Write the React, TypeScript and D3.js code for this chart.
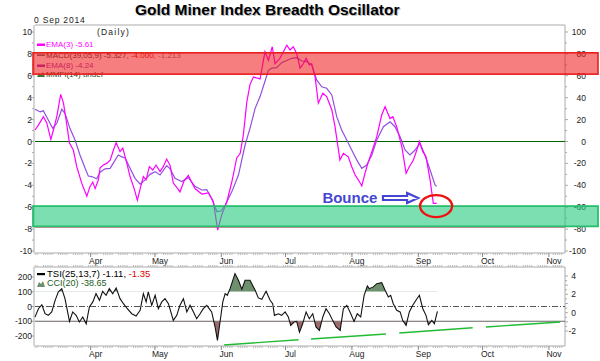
import React from 'react';
import * as d3 from 'd3';

const W = 600;
const H = 361;
const FONT = "'Liberation Sans', Arial, sans-serif";
const BASE = new Date(2014, 3, 1).getTime(); // Apr 1 2014, day 0
const dayToDate = (d: number) => new Date(BASE + d * 86400000);

// x domain (days from Apr 1 2014)
const dayDomain: [number, number] = [-26, 221.5];

// Main panel: EMA(3) (magenta) [day, value]
const emaFast: [number, number][] = [
  [-26, 1.05], [-24.4, 1.5], [-22.1, 2.26], [-20.5, 1.7], [-18.6, 0.2], [-17.4, 1.05], [-15.8, 2.3],
  [-14.0, 4.3], [-12.7, 3.5], [-11.5, 2.0], [-9.9, -0.15], [-8.1, -0.78], [-6.5, -2.3], [-4.2, -3.8],
  [-1.8, -5.0], [-0.3, -4.1], [1.0, -3.7], [2.1, -4.3], [3.6, -3.5], [4.4, -2.4], [5.9, -2.15],
  [7.5, -2.0], [9.1, -1.7], [10.6, -0.8], [11.9, -0.1], [13.7, -0.93], [15.0, -0.6], [16.9, -2.0],
  [18.4, -3.2], [20.3, -4.3], [21.8, -5.35], [23.4, -4.1], [24.6, -3.2], [25.9, -3.5], [27.4, -2.3],
  [29.0, -2.6], [30.5, -2.15], [32.4, -2.75], [33.9, -2.3], [35.5, -1.6], [37.1, -2.2], [38.6, -3.8],
  [41.0, -4.4], [41.7, -4.6], [43.6, -3.6], [45.6, -3.1], [46.9, -3.6], [48.7, -4.3], [51.9, -4.8],
  [55.0, -4.7], [57.3, -5.5], [59.3, -8.1], [61.2, -6.7], [63.6, -5.5], [65.9, -3.7], [68.2, -1.5],
  [69.8, -1.1], [71.3, 0.6], [72.9, 3.6], [74.4, 5.2], [76.0, 5.9], [79.1, 5.7], [81.4, 8.2],
  [83.0, 7.4], [84.8, 8.65], [86.1, 7.1], [88.4, 7.6], [91.6, 8.8], [93.1, 8.36], [94.6, 8.65],
  [96.2, 8.05], [97.8, 6.7], [99.3, 7.1], [100.6, 7.6], [102.1, 7.0], [103.2, 7.1], [104.8, 5.9],
  [106.3, 3.5], [108.4, 4.4], [110.2, 4.1], [112.6, 2.9], [114.1, 1.35], [116.4, -1.7], [118.0, -1.08],
  [120.3, -1.4], [121.9, -2.3], [123.5, -3.06], [125.0, -3.5], [126.6, -4.06], [128.1, -2.9],
  [129.7, -1.84], [131.3, -0.93], [133.6, 0.44], [135.9, 2.42], [137.5, 3.18], [138.5, 2.7],
  [139.8, 2.1], [141.1, 2.27], [142.9, 1.35], [145.3, -0.47], [147.3, -2.9], [148.8, -2.3],
  [150.7, -1.7], [152.3, -0.78], [153.5, 0], [155.1, -0.93], [156.6, -1.4], [158.5, -3.5],
  [160.0, -5.65], [161.6, -5.65],
];

// Main panel: EMA(8) (purple)
const emaSlow: [number, number][] = [
  [-26, 2.94], [-23.6, 2.7], [-22.1, 2.8], [-19.8, 1.96], [-17.7, 1.2], [-15.8, 1.66], [-13.5, 2.94],
  [-12.0, 2.57], [-9.7, 1.2], [-7.3, 0.14], [-5.0, -1.23], [-2.6, -2.45], [-1.1, -3.15], [0.5, -3.2],
  [2.8, -3.4], [4.4, -2.8], [6.7, -2.5], [9.1, -2.45], [11.4, -1.7], [12.9, -1.23], [14.5, -1.4],
  [16.1, -1.5], [18.4, -2.45], [20.7, -3.36], [23.1, -3.9], [25.4, -3.5], [27.7, -3.0], [30.1, -2.75],
  [32.4, -3.06], [35.5, -2.2], [37.1, -2.5], [39.4, -3.36], [42.5, -3.66], [45.6, -3.3], [48.7, -4.1],
  [51.9, -4.43], [54.2, -4.4], [56.5, -5.2], [58.9, -6.4], [60.9, -6.35], [62.8, -5.8], [65.9, -4.6],
  [69.0, -3.06], [72.1, -0.32], [74.4, 1.2], [76.8, 3.03], [79.1, 4.1], [81.4, 5.5], [83.0, 6.5],
  [84.6, 6.7], [86.9, 6.75], [89.2, 7.2], [91.6, 7.4], [93.9, 7.6], [96.2, 7.65], [98.6, 7.35],
  [100.9, 7.3], [103.2, 7.0], [105.6, 5.6], [107.9, 5.0], [110.2, 4.86], [112.6, 4.25], [114.9, 2.27],
  [117.2, 1.05], [119.6, 0.14], [121.9, -0.78], [124.3, -1.7], [126.6, -2.45], [128.9, -2.15],
  [131.3, -1.23], [133.6, 0.14], [136.7, 1.35], [139.8, 1.8], [142.1, 1.35], [144.5, 0.44],
  [146.8, -0.78], [149.1, -1.23], [151.5, -0.78], [153.8, -0.16], [156.1, -1.23], [158.5, -2.6],
  [160.8, -3.97], [161.6, -4.1],
];

// Lower panel: CCI(20) (black, left scale)
const cci: [number, number][] = [
  [-26, -72], [-24.4, -15], [-22.8, 12], [-21.3, -49], [-19.8, -60], [-18.2, -37], [-16.6, 42],
  [-15.1, 99], [-13.5, 121], [-12.0, 53], [-9.9, -101], [-8.4, -37], [-6.8, -60], [-5.3, -105],
  [-3.7, -71], [-2.1, -117], [-0.6, -3], [1.0, 31], [2.5, 87], [4.1, 42], [5.6, 103], [7.2, 76],
  [8.7, 121], [10.3, 87], [11.9, 126], [13.7, 53], [15.3, 19], [17.1, -15], [19.2, -49], [21.2, -65],
  [23.1, -26], [24.6, 87], [25.9, 31], [26.9, 99], [28.5, 8], [30.1, 76], [31.6, -15], [33.2, 31],
  [34.7, 53], [36.3, 19], [38.6, -94], [40.2, -60], [41.7, 8], [43.3, 53], [44.9, -37], [46.4, 8],
  [48.0, -37], [49.5, -83], [51.1, -49], [52.6, -15], [54.2, 8], [56.5, -37], [58.1, -139],
  [59.2, -230], [60.4, -105], [61.7, 31], [62.8, 87], [63.8, 76], [65.1, 121], [67.4, 223],
  [69.0, 178], [70.6, 117], [72.1, 178], [74.4, 178], [76.8, 110], [78.3, 58], [79.9, 49],
  [81.9, 103], [83.8, 42], [85.0, 19], [85.8, -60], [87.6, -49], [89.2, -60], [90.8, -37],
  [92.3, -71], [93.4, -128], [95.0, -105], [96.2, -101], [97.5, -174], [99.0, -117], [100.6, -37],
  [102.1, -83], [103.7, -49], [105.2, -139], [106.8, -162], [108.4, -71], [109.9, -15], [111.5, -49],
  [113.0, -94], [114.6, -139], [116.5, -162], [118.0, -15], [119.6, 8], [121.1, -37], [123.0, -101],
  [124.5, -49], [126.1, -71], [127.7, 76], [129.2, 140], [130.1, 121], [132.0, 133], [133.6, 155],
  [135.9, 162], [137.5, 110], [139.0, 65], [140.1, 76], [141.3, 19], [142.9, -26], [144.5, -37],
  [145.7, -94], [147.3, -128], [148.8, -37], [150.4, 8], [151.9, 42], [153.5, 76], [155.1, -15],
  [156.6, -60], [157.7, -124], [159.3, -94], [160.5, -117], [161.9, -33],
];

// Lower panel: TSI (green, right scale) drawn in segments
const tsiSegments: [number, number][][] = [
  [[62.3, -3.53], [97.1, -2.95]],
  [[102.9, -2.87], [137.9, -2.33]],
  [[144.1, -2.22], [178.4, -1.64]],
  [[184.6, -1.56], [219.2, -1.02]],
];

const mainLeftTicks = [10, 8, 6, 4, 2, 0, -2, -4, -6, -8, -10];
const mainRightTicks = [100, 80, 60, 40, 20, 0, -20, -40, -60, -80, -100];
const lowLeftTicks = [200, 100, 0, -100, -200];
const lowRightTicks = [4, 2, 0, -2];

const redBand: [number, number] = [6.15, 8.1];
const greenBand: [number, number] = [-7.75, -5.9];
const redLineLevel = -7.8;
const cciUpper = 100;
const cciLower = -100;

// annotation anchors (day, value)
const bounceText: [number, number] = [108.2, -5.6];
const bounceArrow: [number, number, number] = [136.5, 152.9, -5.16];
const bounceCircle: [number, number] = [161.3, -5.9];

export default function App() {
  const L = 35, R = 565;
  const x = d3.scaleTime().domain(dayDomain.map(dayToDate)).range([L, R]);
  const xd = (d: number) => x(dayToDate(d));

  const MT = 25, MB = 253;
  const yM = d3.scaleLinear().domain([-10, 10]).range([251, 32]);
  const yMR = d3.scaleLinear().domain([-100, 100]).range([251, 32]);

  const LT = 267, LB = 346;
  const yL = d3.scaleLinear().domain([-200, 200]).range([336, 277]);
  const yLR = d3.scaleLinear().domain([-2, 4]).range([331, 276]);

  const lineM = d3.line<[number, number]>().x(d => xd(d[0])).y(d => yM(d[1]));
  const lineL = d3.line<[number, number]>().x(d => xd(d[0])).y(d => yL(d[1]));
  const lineLR = d3.line<[number, number]>().x(d => xd(d[0])).y(d => yLR(d[1]));
  const areaUp = d3.area<[number, number]>().x(d => xd(d[0])).y0(yL(cciUpper)).y1(d => yL(d[1]));
  const areaDn = d3.area<[number, number]>().x(d => xd(d[0])).y0(yL(cciLower)).y1(d => yL(d[1]));

  const [d0, d1] = x.domain();
  const months = d3.timeMonth.range(d3.timeMonth.ceil(d0), d1);
  const weekdays = d3.timeDay.range(d0, d1).filter(d => d.getDay() % 6 !== 0);
  const fmt = d3.timeFormat('%b');

  const minorMain = d3.range(-10, 11, 1);
  const minorLowR = d3.range(-2, 4.5, 0.5);

  const bx = xd(bounceText[0]);
  const by = yM(bounceText[1]);
  const ax0 = xd(bounceArrow[0]);
  const ax1 = xd(bounceArrow[1]);
  const ay = yM(bounceArrow[2]);
  const arrowPath = `M${ax0},${ay - 2} L${ax1 - 11},${ay - 2} L${ax1 - 11},${ay - 5} L${ax1},${ay} L${ax1 - 11},${ay + 5} L${ax1 - 11},${ay + 2} L${ax0},${ay + 2} Z`;

  const fs = 8.5;

  return (
    <svg width={W} height={H} style={{ position: 'absolute', left: 0, top: 0, display: 'block' }}
      fontFamily={FONT}>
      <defs>
        <clipPath id="clipUp"><rect x={L} y={LT} width={R - L} height={yL(cciUpper) - LT} /></clipPath>
        <clipPath id="clipDn"><rect x={L} y={yL(cciLower)} width={R - L} height={LB - yL(cciLower)} /></clipPath>
      </defs>
      <rect x={0} y={0} width={W} height={H} fill="#fff" />

      {/* title */}
      <text x={136} y={16} fontSize={15.5} fontWeight="bold" fill="#bbb">Gold Miner Index Breadth Oscillator</text>
      <text x={135} y={15} fontSize={15.5} fontWeight="bold" fill="#000">Gold Miner Index Breadth Oscillator</text>
      <text x={34} y={23} fontSize={fs} fill="#222" letterSpacing={0.8}>0 Sep 2014</text>
      <text x={97} y={35} fontSize={fs} fill="#222" letterSpacing={1.2}>(Daily)</text>

      {/* main panel frame */}
      <line x1={L} x2={R} y1={MT} y2={MT} stroke="#aaa" />
      <line x1={L - 1} x2={L - 1} y1={MT} y2={MB} stroke="#aaa" />
      <line x1={R} x2={R} y1={MT} y2={MB} stroke="#aaa" />
      <line x1={L} x2={R} y1={MB} y2={MB} stroke="#aaa" />

      {/* main y ticks */}
      {minorMain.map(v => (
        <g key={'mm' + v}>
          <line x1={L - 1} x2={L - (v % 2 === 0 ? 4 : 3)} y1={yM(v)} y2={yM(v)} stroke="#aaa" />
          <line x1={R} x2={R + (v % 2 === 0 ? 3 : 2)} y1={yM(v)} y2={yM(v)} stroke="#aaa" />
        </g>
      ))}
      {mainLeftTicks.map(v => (
        <text key={'ml' + v} x={32} y={yM(v) + 3} fontSize={fs} textAnchor="end" fill="#222">{v}</text>
      ))}
      {mainRightTicks.map(v => (
        <text key={'mr' + v} x={586} y={yMR(v) + 3} fontSize={fs} textAnchor="end" fill="#222">{v}</text>
      ))}

      {/* level lines */}
      <line x1={L} x2={R} y1={yM(0)} y2={yM(0)} stroke="#006400" strokeWidth={1.2} />
      <line x1={L} x2={R} y1={yM(redLineLevel)} y2={yM(redLineLevel)} stroke="#d0103a" strokeWidth={1.2} />

      {/* legend main */}
      <rect x={37} y={43.5} width={8} height={2.5} fill="#ff00ff" />
      <text x={46} y={47} fontSize={8} fill="#ff00ff">EMA(3) -5.61</text>
      <rect x={37} y={54.5} width={8} height={1.2} fill="#333" />
      <text x={46} y={58} fontSize={8} fill="#333">MACD(39,05,9) -5.327, <tspan fill="#e00000">-4.000,</tspan> <tspan fill="#777">-1.213</tspan></text>
      <rect x={37} y={64.5} width={8} height={2.5} fill="#a030c0" />
      <text x={46} y={68} fontSize={8} fill="#a030c0">EMA(8) -4.24</text>
      <path d="M37,77 L39,73 L41,75 L43,72 L45,77 Z" fill="#3a7a3a" />
      <text x={46} y={77} fontSize={8} fill="#1a4a1a">MMFI(14) undef</text>

      {/* main lines */}
      <path d={lineM(emaSlow) || ''} fill="none" stroke="#9050e0" strokeWidth={1.2} />
      <path d={lineM(emaFast) || ''} fill="none" stroke="#ff00ff" strokeWidth={1.2} />

      {/* bands */}
      <rect x={33} y={yM(redBand[1])} width={598 - 33} height={yM(redBand[0]) - yM(redBand[1])}
        fill="rgb(240,20,20)" fillOpacity={0.55} stroke="rgb(235,30,30)" strokeWidth={1.6} />
      <rect x={33} y={yM(greenBand[1])} width={598 - 33} height={yM(greenBand[0]) - yM(greenBand[1])}
        fill="rgb(30,200,120)" fillOpacity={0.58} stroke="rgb(40,190,110)" strokeWidth={1.8} />

      {/* x ticks under main */}
      {weekdays.map((d, i) => (
        <line key={'wm' + i} x1={x(d)} x2={x(d)} y1={MB} y2={MB + 2} stroke="#bbb" />
      ))}
      {months.map((d, i) => (
        <line key={'tm' + i} x1={x(d)} x2={x(d)} y1={MB} y2={MB + 4} stroke="#888" />
      ))}
      {months.map((d, i) => (
        <text key={'lm' + i} x={x(d) + 5} y={264} fontSize={fs} textAnchor="middle" fill="#222">{fmt(d)}</text>
      ))}

      {/* annotation */}
      <text x={bx} y={by} fontSize={15} fontWeight="bold" fill="#4646d2">Bounce</text>
      <path d={arrowPath} fill="#fff" stroke="#4646d2" strokeWidth={2.2} strokeLinejoin="miter" />
      <ellipse cx={xd(bounceCircle[0])} cy={yM(bounceCircle[1])} rx={16} ry={11} fill="none" stroke="#ee1111" strokeWidth={2.4} />

      {/* lower panel frame */}
      <line x1={L} x2={R} y1={LT} y2={LT} stroke="#aaa" />
      <line x1={L - 1} x2={L - 1} y1={LT} y2={LB} stroke="#aaa" />
      <line x1={R} x2={R} y1={LT} y2={LB} stroke="#aaa" />
      <line x1={L} x2={R} y1={LB} y2={LB} stroke="#aaa" />
      {weekdays.map((d, i) => (
        <line key={'wt' + i} x1={x(d)} x2={x(d)} y1={LT - 2} y2={LT} stroke="#bbb" />
      ))}
      {weekdays.map((d, i) => (
        <line key={'wl' + i} x1={x(d)} x2={x(d)} y1={LB} y2={LB + 2} stroke="#bbb" />
      ))}
      {months.map((d, i) => (
        <line key={'tl' + i} x1={x(d)} x2={x(d)} y1={LB} y2={LB + 4} stroke="#888" />
      ))}
      {months.map((d, i) => (
        <text key={'ll' + i} x={x(d) + 5} y={357} fontSize={fs} textAnchor="middle" fill="#222">{fmt(d)}</text>
      ))}
      {lowLeftTicks.map(v => (
        <g key={'lt' + v}>
          <line x1={L - 1} x2={L - 4} y1={yL(v)} y2={yL(v)} stroke="#aaa" />
          <text x={32} y={yL(v) + 3} fontSize={fs} textAnchor="end" fill="#222">{v}</text>
        </g>
      ))}
      {minorLowR.map(v => (
        <line key={'lrm' + v} x1={R} x2={R + (Number.isInteger(v) ? 3 : 2)} y1={yLR(v)} y2={yLR(v)} stroke="#aaa" />
      ))}
      {lowRightTicks.map(v => (
        <text key={'lr' + v} x={576} y={yLR(v) + 3} fontSize={fs} textAnchor="end" fill="#222">{v}</text>
      ))}

      {/* lower levels */}
      <line x1={L} x2={R} y1={yL(0)} y2={yL(0)} stroke="#555" strokeDasharray="6,2,1,2" />
      <line x1={L} x2={R} y1={yL(cciLower)} y2={yL(cciLower)} stroke="#666" strokeWidth={1.2} />

      {/* CCI fills */}
      <path d={areaUp(cci) || ''} fill="#6e906e" clipPath="url(#clipUp)" />
      <path d={areaDn(cci) || ''} fill="#9c6a6a" clipPath="url(#clipDn)" />
      <path d={lineL(cci) || ''} fill="none" stroke="#111" strokeWidth={1.1} />

      {/* TSI segments */}
      {tsiSegments.map((s, i) => (
        <path key={'ts' + i} d={lineLR(s) || ''} fill="none" stroke="#22bb33" strokeWidth={1.4} />
      ))}

      {/* lower legend */}
      <rect x={37} y={273} width={8} height={2.2} fill="#000" />
      <text x={47} y={277} fontSize={9.5} fill="#000">TSI(25,13,7) -1.11, <tspan fill="#e00000">-1.35</tspan></text>
      <path d="M37,287 L39,282 L41,284 L43,281 L45,287 Z" fill="#6e906e" />
      <text x={47} y={286} fontSize={9} fill="#1a5a1a">CCI(20) -38.65</text>
    </svg>
  );
}
